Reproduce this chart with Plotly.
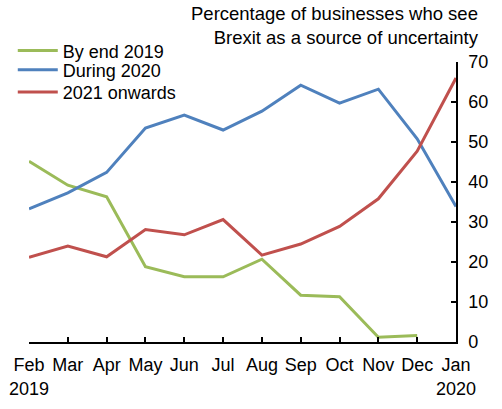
import plotly.graph_objs as go

# Months of the survey (Feb 2019 to Jan 2020)
months = ["Feb<br>2019", "Mar", "Apr", "May", "Jun", "Jul", "Aug",
          "Sep", "Oct", "Nov", "Dec", "Jan<br>2020"]

# Share of businesses expecting Brexit uncertainty to resolve...
by_end_2019 = [45.2, 39.2, 36.3, 18.8, 16.3, 16.3, 20.7, 11.7, 11.3, 1.2, 1.6, None]
during_2020 = [33.3, 37.3, 42.4, 53.5, 56.7, 53.0, 57.7, 64.2, 59.7, 63.2, 50.8, 33.9]
onwards_2021 = [21.2, 24.0, 21.3, 28.1, 26.8, 30.6, 21.7, 24.5, 28.9, 35.8, 47.7, 66.0]

x = list(range(len(months)))
font = dict(family="Liberation Sans, Arial, sans-serif", size=18, color="black")

fig = go.Figure()
fig.add_trace(go.Scatter(x=x, y=by_end_2019, name="By end 2019", mode="lines",
                         line=dict(color="#9BBB59", width=3), legend="legend"))
fig.add_trace(go.Scatter(x=x, y=during_2020, name="During 2020", mode="lines",
                         line=dict(color="#4F81BD", width=3), legend="legend2"))
fig.add_trace(go.Scatter(x=x, y=onwards_2021, name="2021 onwards", mode="lines",
                         line=dict(color="#C0504D", width=3), legend="legend3"))

# one legend per series so the rows can sit as tight as in the original
leg = dict(x=-0.038, xanchor="left", yanchor="middle", bgcolor="rgba(0,0,0,0)",
           font=font, itemwidth=40)

fig.update_layout(
    width=502, height=409,
    margin=dict(l=29, r=46, t=62, b=67, autoexpand=False),
    paper_bgcolor="white", plot_bgcolor="white",
    font=font,
    showlegend=True,
    legend=dict(leg, y=1.106, yanchor="top"),
    legend2=dict(leg, y=0.971),
    legend3=dict(leg, y=0.892),
    annotations=[dict(
        text="Percentage of businesses who see<br>Brexit as a source of uncertainty",
        xref="paper", yref="paper", x=1.059, y=1.219, xanchor="right", yanchor="top",
        align="right", showarrow=False, font=dict(font, size=18.5))],
)

fig.update_xaxes(
    range=[0, 11], tickmode="array", tickvals=x, ticktext=months,
    showline=True, linecolor="black", linewidth=1.5,
    ticks="inside", ticklen=5, tickcolor="black", tickwidth=1.5,
    showgrid=False, zeroline=False, tickangle=0, ticklabelstandoff=6,
)
fig.update_yaxes(
    range=[0, 70], dtick=10, side="right",
    showline=True, linecolor="black", linewidth=1.5,
    ticks="inside", ticklen=5, tickcolor="black", tickwidth=1.5,
    showgrid=False, zeroline=False, ticklabelstandoff=7,
)

# drop the browser's default 8px body margin so the figure fills the window
fig.write_html("out.html", config={"displayModeBar": False},
               post_script="document.body.style.margin='0';")
